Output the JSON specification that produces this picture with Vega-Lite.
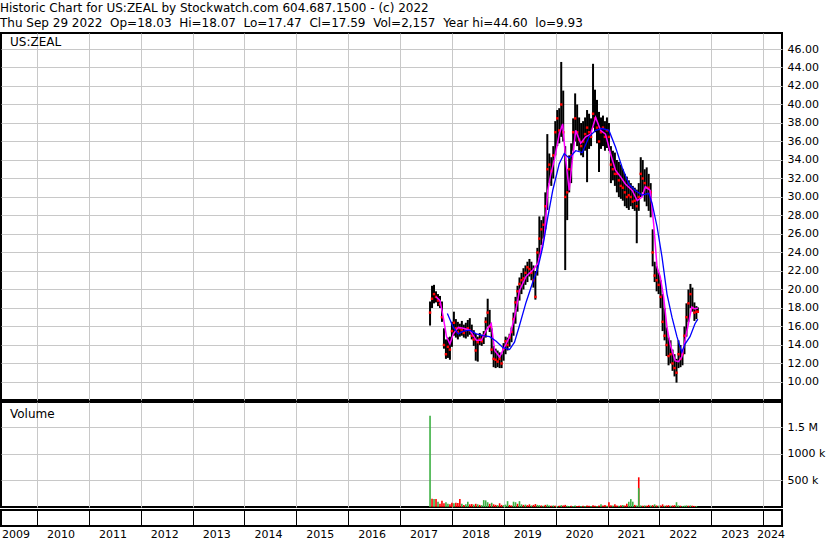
{
  "$schema": "https://vega.github.io/schema/vega-lite/v6.json",
  "padding": {"left": 0, "top": 2, "right": 0, "bottom": 0},
  "background": "white",
  "title": {
    "text": ["Historic Chart for US:ZEAL by Stockwatch.com 604.687.1500 - (c) 2022", "Thu Sep 29 2022\u00a0\u00a0Op=18.03\u00a0\u00a0Hi=18.07\u00a0\u00a0Lo=17.47\u00a0\u00a0Cl=17.59\u00a0\u00a0Vol=2,157\u00a0\u00a0Year hi=44.60\u00a0\u00a0lo=9.93"],
    "anchor": "start", "frame": "bounds", "offset": 2,
    "font": "DejaVu Sans", "fontSize": 12, "fontWeight": "normal", "color": "black", "lineHeight": 15
  },
  "spacing": 0,
  "config": {
    "view": {"stroke": "black", "strokeWidth": 2},
    "axis": {"labelFont": "DejaVu Sans", "labelFontSize": 11, "labelColor": "black", "gridColor": "#c8c8c8", "gridWidth": 1, "ticks": false, "domain": false},
    "text": {"font": "DejaVu Sans", "fontSize": 12, "color": "black"}
  },
  "datasets": {
    "price": [
      {"d":"2017-07-31","h":18.7,"l":16.1,"c":17.5},
      {"d":"2017-08-14","h":20.4,"l":18.0,"c":19.0},
      {"d":"2017-08-28","h":20.5,"l":18.5,"c":19.5},
      {"d":"2017-09-11","h":19.8,"l":18.6,"c":19.2},
      {"d":"2017-09-25","h":19.5,"l":18.2,"c":18.8},
      {"d":"2017-10-09","h":19.3,"l":18.0,"c":18.4},
      {"d":"2017-10-23","h":18.7,"l":16.5,"c":17.0},
      {"d":"2017-11-06","h":15.8,"l":13.6,"c":14.0},
      {"d":"2017-11-20","h":14.6,"l":12.5,"c":13.0},
      {"d":"2017-12-04","h":14.8,"l":12.6,"c":13.8},
      {"d":"2017-12-18","h":14.9,"l":12.4,"c":13.5},
      {"d":"2018-01-01","h":16.5,"l":13.8,"c":15.5},
      {"d":"2018-01-15","h":17.6,"l":15.0,"c":16.4},
      {"d":"2018-01-29","h":16.8,"l":14.8,"c":15.8},
      {"d":"2018-02-12","h":16.5,"l":14.6,"c":15.4},
      {"d":"2018-02-26","h":16.3,"l":14.9,"c":15.8},
      {"d":"2018-03-12","h":16.6,"l":15.0,"c":15.6},
      {"d":"2018-03-26","h":16.2,"l":14.8,"c":15.3},
      {"d":"2018-04-09","h":16.4,"l":14.7,"c":15.6},
      {"d":"2018-04-23","h":16.7,"l":14.9,"c":15.8},
      {"d":"2018-05-07","h":16.9,"l":15.1,"c":15.6},
      {"d":"2018-05-21","h":16.2,"l":14.6,"c":15.0},
      {"d":"2018-06-04","h":15.6,"l":13.9,"c":14.6},
      {"d":"2018-06-18","h":15.2,"l":12.3,"c":13.4},
      {"d":"2018-07-02","h":14.9,"l":12.2,"c":14.3},
      {"d":"2018-07-16","h":15.3,"l":14.0,"c":14.6},
      {"d":"2018-07-30","h":15.1,"l":13.9,"c":14.4},
      {"d":"2018-08-13","h":15.5,"l":14.1,"c":15.0},
      {"d":"2018-08-27","h":17.0,"l":14.8,"c":16.5},
      {"d":"2018-09-10","h":19.0,"l":16.0,"c":17.5},
      {"d":"2018-09-24","h":17.8,"l":15.4,"c":16.0},
      {"d":"2018-10-08","h":15.8,"l":13.0,"c":13.5},
      {"d":"2018-10-22","h":13.9,"l":11.6,"c":12.5},
      {"d":"2018-11-05","h":13.6,"l":11.5,"c":12.4},
      {"d":"2018-11-19","h":13.4,"l":11.6,"c":12.2},
      {"d":"2018-12-03","h":13.2,"l":11.5,"c":12.5},
      {"d":"2018-12-17","h":13.0,"l":11.5,"c":12.0},
      {"d":"2018-12-31","h":14.2,"l":12.3,"c":13.6},
      {"d":"2019-01-14","h":14.9,"l":13.0,"c":14.4},
      {"d":"2019-01-28","h":14.8,"l":13.4,"c":14.0},
      {"d":"2019-02-11","h":15.2,"l":13.8,"c":14.8},
      {"d":"2019-02-25","h":15.9,"l":14.3,"c":15.4},
      {"d":"2019-03-11","h":17.5,"l":15.0,"c":16.8},
      {"d":"2019-03-25","h":19.2,"l":16.3,"c":18.6},
      {"d":"2019-04-08","h":20.4,"l":17.6,"c":19.8},
      {"d":"2019-04-22","h":21.3,"l":18.8,"c":20.6},
      {"d":"2019-05-06","h":21.8,"l":19.5,"c":21.0},
      {"d":"2019-05-20","h":22.3,"l":20.0,"c":21.2},
      {"d":"2019-06-03","h":22.6,"l":20.5,"c":21.8},
      {"d":"2019-06-17","h":23.0,"l":20.8,"c":22.4},
      {"d":"2019-07-01","h":23.3,"l":21.4,"c":22.2},
      {"d":"2019-07-15","h":23.0,"l":21.0,"c":21.8},
      {"d":"2019-07-29","h":22.6,"l":20.2,"c":21.0},
      {"d":"2019-08-12","h":22.0,"l":18.9,"c":19.2},
      {"d":"2019-08-26","h":24.5,"l":21.5,"c":24.0},
      {"d":"2019-09-09","h":27.9,"l":23.4,"c":25.5},
      {"d":"2019-09-23","h":27.5,"l":24.8,"c":26.5},
      {"d":"2019-10-07","h":27.9,"l":25.5,"c":27.0},
      {"d":"2019-10-21","h":30.5,"l":26.5,"c":29.0},
      {"d":"2019-11-04","h":36.8,"l":28.6,"c":33.0},
      {"d":"2019-11-18","h":34.7,"l":31.5,"c":33.5},
      {"d":"2019-12-02","h":34.3,"l":31.2,"c":32.8},
      {"d":"2019-12-16","h":35.5,"l":32.0,"c":34.5},
      {"d":"2019-12-30","h":38.2,"l":34.5,"c":37.0},
      {"d":"2020-01-13","h":39.4,"l":35.5,"c":38.5},
      {"d":"2020-01-27","h":39.6,"l":35.8,"c":37.2},
      {"d":"2020-02-10","h":44.6,"l":36.5,"c":40.0},
      {"d":"2020-02-24","h":41.5,"l":36.0,"c":37.0},
      {"d":"2020-03-09","h":35.5,"l":22.1,"c":30.0},
      {"d":"2020-03-23","h":33.0,"l":27.5,"c":30.5},
      {"d":"2020-04-06","h":34.5,"l":30.5,"c":33.0},
      {"d":"2020-04-20","h":35.8,"l":31.5,"c":34.5},
      {"d":"2020-05-04","h":38.5,"l":35.0,"c":37.0},
      {"d":"2020-05-18","h":41.2,"l":36.0,"c":38.5},
      {"d":"2020-06-01","h":40.0,"l":35.5,"c":37.0},
      {"d":"2020-06-15","h":38.6,"l":35.0,"c":36.2},
      {"d":"2020-06-29","h":38.0,"l":34.5,"c":35.5},
      {"d":"2020-07-13","h":38.2,"l":34.3,"c":36.0},
      {"d":"2020-07-27","h":38.6,"l":35.0,"c":36.8},
      {"d":"2020-08-10","h":39.4,"l":31.6,"c":37.5},
      {"d":"2020-08-24","h":39.0,"l":35.2,"c":37.0},
      {"d":"2020-09-07","h":38.5,"l":35.5,"c":36.5},
      {"d":"2020-09-21","h":44.4,"l":37.5,"c":39.0},
      {"d":"2020-10-05","h":41.6,"l":37.0,"c":38.5},
      {"d":"2020-10-19","h":40.5,"l":35.8,"c":37.5},
      {"d":"2020-11-02","h":39.2,"l":32.7,"c":36.0},
      {"d":"2020-11-16","h":38.6,"l":35.2,"c":37.0},
      {"d":"2020-11-30","h":38.8,"l":35.5,"c":37.5},
      {"d":"2020-12-14","h":38.2,"l":35.0,"c":36.5},
      {"d":"2020-12-28","h":38.6,"l":35.3,"c":37.2},
      {"d":"2021-01-11","h":38.0,"l":35.0,"c":36.5},
      {"d":"2021-01-25","h":35.5,"l":31.5,"c":33.5},
      {"d":"2021-02-08","h":35.0,"l":31.8,"c":33.0},
      {"d":"2021-02-22","h":34.8,"l":31.2,"c":32.5},
      {"d":"2021-03-08","h":34.0,"l":30.5,"c":32.5},
      {"d":"2021-03-22","h":33.8,"l":30.0,"c":31.8},
      {"d":"2021-04-05","h":33.5,"l":29.8,"c":31.2},
      {"d":"2021-04-19","h":33.0,"l":29.6,"c":31.0},
      {"d":"2021-05-03","h":32.5,"l":29.0,"c":30.5},
      {"d":"2021-05-17","h":32.2,"l":28.8,"c":30.0},
      {"d":"2021-05-31","h":31.8,"l":28.6,"c":30.2},
      {"d":"2021-06-14","h":31.5,"l":29.0,"c":30.0},
      {"d":"2021-06-28","h":31.2,"l":28.7,"c":29.5},
      {"d":"2021-07-12","h":31.0,"l":28.5,"c":29.6},
      {"d":"2021-07-26","h":30.8,"l":25.0,"c":29.0},
      {"d":"2021-08-09","h":31.5,"l":28.5,"c":30.0},
      {"d":"2021-08-23","h":34.3,"l":30.0,"c":32.5},
      {"d":"2021-09-06","h":34.0,"l":30.5,"c":32.0},
      {"d":"2021-09-20","h":33.0,"l":29.5,"c":31.5},
      {"d":"2021-10-04","h":33.2,"l":29.0,"c":31.0},
      {"d":"2021-10-18","h":32.5,"l":28.5,"c":31.0},
      {"d":"2021-11-01","h":31.5,"l":27.8,"c":30.5},
      {"d":"2021-11-15","h":26.5,"l":22.5,"c":24.0},
      {"d":"2021-11-29","h":23.0,"l":20.8,"c":21.5},
      {"d":"2021-12-13","h":22.5,"l":19.8,"c":21.0},
      {"d":"2021-12-27","h":21.8,"l":19.5,"c":20.5},
      {"d":"2022-01-10","h":21.0,"l":18.0,"c":19.2},
      {"d":"2022-01-24","h":19.5,"l":15.5,"c":16.5},
      {"d":"2022-02-07","h":18.0,"l":14.5,"c":15.0},
      {"d":"2022-02-21","h":15.9,"l":12.8,"c":14.0},
      {"d":"2022-03-07","h":14.8,"l":11.8,"c":12.8},
      {"d":"2022-03-21","h":14.5,"l":12.0,"c":13.0},
      {"d":"2022-04-04","h":13.5,"l":11.2,"c":12.0},
      {"d":"2022-04-18","h":13.0,"l":10.6,"c":11.5},
      {"d":"2022-05-02","h":12.5,"l":9.93,"c":11.0},
      {"d":"2022-05-16","h":14.5,"l":11.5,"c":13.0},
      {"d":"2022-05-30","h":14.0,"l":11.6,"c":12.5},
      {"d":"2022-06-13","h":13.5,"l":11.8,"c":13.0},
      {"d":"2022-06-27","h":16.0,"l":13.0,"c":15.0},
      {"d":"2022-07-11","h":18.5,"l":14.9,"c":17.0},
      {"d":"2022-07-25","h":20.0,"l":16.5,"c":18.5},
      {"d":"2022-08-08","h":20.6,"l":18.0,"c":19.5},
      {"d":"2022-08-22","h":20.2,"l":17.6,"c":18.0},
      {"d":"2022-09-05","h":18.6,"l":16.6,"c":17.5},
      {"d":"2022-09-19","h":18.2,"l":16.8,"c":17.6},
      {"d":"2022-09-29","h":18.07,"l":17.47,"c":17.59}
    ],
    "ma1": [
      {"d":"2017-09-11","v":19.2},{"d":"2017-10-09","v":18.8},{"d":"2017-11-01","v":17.0},{"d":"2017-11-24","v":14.9},
      {"d":"2017-12-18","v":14.1},{"d":"2018-01-11","v":15.2},{"d":"2018-02-15","v":15.9},{"d":"2018-03-22","v":15.8},
      {"d":"2018-05-07","v":15.6},{"d":"2018-06-22","v":14.5},{"d":"2018-07-27","v":14.5},{"d":"2018-08-31","v":15.6},
      {"d":"2018-10-05","v":16.3},{"d":"2018-10-29","v":13.4},{"d":"2018-12-03","v":12.7},{"d":"2019-01-07","v":13.8},
      {"d":"2019-02-11","v":14.9},{"d":"2019-03-18","v":17.0},{"d":"2019-04-22","v":19.9},{"d":"2019-06-07","v":21.4},
      {"d":"2019-07-25","v":22.1},{"d":"2019-08-29","v":22.8},{"d":"2019-09-20","v":24.2},{"d":"2019-10-14","v":25.7},
      {"d":"2019-11-07","v":30.7},{"d":"2019-11-29","v":32.5},{"d":"2019-12-23","v":34.0},{"d":"2020-01-27","v":36.8},
      {"d":"2020-02-20","v":37.9},{"d":"2020-03-13","v":34.0},{"d":"2020-04-06","v":30.7},{"d":"2020-04-30","v":34.3},
      {"d":"2020-05-22","v":37.2},{"d":"2020-06-26","v":35.8},{"d":"2020-07-31","v":36.5},{"d":"2020-09-04","v":36.8},
      {"d":"2020-10-09","v":38.6},{"d":"2020-11-13","v":37.2},{"d":"2020-12-18","v":36.8},{"d":"2021-01-22","v":34.7},
      {"d":"2021-02-26","v":32.9},{"d":"2021-04-02","v":32.2},{"d":"2021-05-07","v":31.4},{"d":"2021-06-24","v":30.7},
      {"d":"2021-07-29","v":29.6},{"d":"2021-09-01","v":30.0},{"d":"2021-09-24","v":31.1},{"d":"2021-10-29","v":30.7},
      {"d":"2021-11-22","v":27.1},{"d":"2021-12-16","v":22.4},{"d":"2022-01-07","v":21.4},{"d":"2022-01-31","v":19.2},
      {"d":"2022-02-24","v":15.9},{"d":"2022-03-18","v":14.1},{"d":"2022-04-22","v":12.3},{"d":"2022-05-16","v":12.2},
      {"d":"2022-06-08","v":12.7},{"d":"2022-07-01","v":14.5},{"d":"2022-07-25","v":16.3},{"d":"2022-08-17","v":18.1},
      {"d":"2022-09-09","v":17.9},{"d":"2022-09-29","v":18.0}
    ],
    "ma2": [
      {"d":"2017-11-30","v":17.4},{"d":"2018-01-11","v":15.9},{"d":"2018-02-15","v":15.2},{"d":"2018-03-22","v":15.5},
      {"d":"2018-05-07","v":15.6},{"d":"2018-06-22","v":15.2},{"d":"2018-08-09","v":15.0},{"d":"2018-09-24","v":14.9},
      {"d":"2018-11-09","v":14.4},{"d":"2018-12-27","v":13.7},{"d":"2019-02-11","v":13.5},{"d":"2019-03-18","v":14.3},
      {"d":"2019-04-22","v":16.1},{"d":"2019-06-07","v":18.6},{"d":"2019-07-25","v":20.8},{"d":"2019-08-29","v":22.3},
      {"d":"2019-10-03","v":24.6},{"d":"2019-11-07","v":27.8},{"d":"2019-12-12","v":30.7},{"d":"2020-01-27","v":33.6},
      {"d":"2020-03-02","v":34.7},{"d":"2020-04-06","v":34.2},{"d":"2020-05-22","v":35.0},{"d":"2020-07-08","v":34.8},
      {"d":"2020-08-24","v":36.5},{"d":"2020-10-09","v":37.2},{"d":"2020-11-25","v":37.4},{"d":"2021-01-11","v":37.2},
      {"d":"2021-02-26","v":35.4},{"d":"2021-04-14","v":33.2},{"d":"2021-05-31","v":31.4},{"d":"2021-07-16","v":30.7},
      {"d":"2021-09-01","v":30.2},{"d":"2021-10-18","v":30.4},{"d":"2021-11-11","v":29.3},{"d":"2021-12-16","v":26.8},
      {"d":"2022-01-20","v":23.5},{"d":"2022-02-24","v":19.5},{"d":"2022-03-31","v":17.0},{"d":"2022-05-05","v":14.9},
      {"d":"2022-06-08","v":13.2},{"d":"2022-07-01","v":14.1},{"d":"2022-08-05","v":14.9},{"d":"2022-09-09","v":16.3},
      {"d":"2022-09-29","v":16.8}
    ],
    "vol": [
      {"d":"2017-07-31","v":1720000,"u":"up"},{"d":"2017-08-14","v":155000,"u":"dn"},{"d":"2017-08-28","v":150000,"u":"up"},
      {"d":"2017-09-11","v":150000,"u":"dn"},{"d":"2017-09-25","v":100000,"u":"up"},{"d":"2017-10-09","v":60000,"u":"dn"},
      {"d":"2017-10-23","v":120000,"u":"dn"},{"d":"2017-11-06","v":70000,"u":"dn"},{"d":"2017-11-20","v":90000,"u":"up"},
      {"d":"2017-12-04","v":60000,"u":"up"},{"d":"2017-12-18","v":50000,"u":"dn"},{"d":"2018-01-01","v":80000,"u":"dn"},
      {"d":"2018-01-15","v":70000,"u":"up"},{"d":"2018-01-29","v":80000,"u":"dn"},{"d":"2018-02-12","v":75000,"u":"dn"},
      {"d":"2018-02-26","v":150000,"u":"dn"},{"d":"2018-03-12","v":60000,"u":"up"},{"d":"2018-03-26","v":40000,"u":"dn"},
      {"d":"2018-04-09","v":50000,"u":"up"},{"d":"2018-04-23","v":100000,"u":"up"},{"d":"2018-05-07","v":50000,"u":"dn"},
      {"d":"2018-05-21","v":55000,"u":"dn"},{"d":"2018-06-04","v":45000,"u":"up"},{"d":"2018-06-18","v":60000,"u":"dn"},
      {"d":"2018-07-02","v":50000,"u":"up"},{"d":"2018-07-16","v":40000,"u":"dn"},{"d":"2018-07-30","v":35000,"u":"up"},
      {"d":"2018-08-13","v":130000,"u":"up"},{"d":"2018-08-27","v":125000,"u":"up"},{"d":"2018-09-10","v":90000,"u":"up"},
      {"d":"2018-09-24","v":60000,"u":"dn"},{"d":"2018-10-08","v":80000,"u":"up"},{"d":"2018-10-22","v":50000,"u":"dn"},
      {"d":"2018-11-05","v":40000,"u":"dn"},{"d":"2018-11-19","v":35000,"u":"up"},{"d":"2018-12-03","v":70000,"u":"dn"},
      {"d":"2018-12-17","v":40000,"u":"dn"},{"d":"2018-12-31","v":35000,"u":"up"},{"d":"2019-01-14","v":45000,"u":"up"},
      {"d":"2019-01-28","v":110000,"u":"up"},{"d":"2019-02-11","v":40000,"u":"dn"},{"d":"2019-02-25","v":30000,"u":"dn"},
      {"d":"2019-03-11","v":100000,"u":"up"},{"d":"2019-03-25","v":90000,"u":"up"},{"d":"2019-04-08","v":60000,"u":"dn"},
      {"d":"2019-04-22","v":110000,"u":"up"},{"d":"2019-05-06","v":50000,"u":"up"},{"d":"2019-05-20","v":40000,"u":"dn"},
      {"d":"2019-06-03","v":45000,"u":"up"},{"d":"2019-06-17","v":35000,"u":"dn"},{"d":"2019-07-01","v":50000,"u":"dn"},
      {"d":"2019-07-15","v":30000,"u":"up"},{"d":"2019-07-29","v":40000,"u":"dn"},{"d":"2019-08-12","v":55000,"u":"dn"},
      {"d":"2019-08-26","v":40000,"u":"up"},{"d":"2019-09-09","v":35000,"u":"up"},{"d":"2019-09-23","v":30000,"u":"dn"},
      {"d":"2019-10-07","v":25000,"u":"up"},{"d":"2019-10-21","v":40000,"u":"dn"},{"d":"2019-11-04","v":45000,"u":"up"},
      {"d":"2019-11-18","v":30000,"u":"up"},{"d":"2019-12-02","v":25000,"u":"dn"},{"d":"2019-12-16","v":30000,"u":"up"},
      {"d":"2019-12-30","v":25000,"u":"dn"},{"d":"2020-01-13","v":20000,"u":"up"},{"d":"2020-01-27","v":25000,"u":"dn"},
      {"d":"2020-02-10","v":35000,"u":"up"},{"d":"2020-02-24","v":30000,"u":"dn"},{"d":"2020-03-09","v":40000,"u":"dn"},
      {"d":"2020-03-23","v":25000,"u":"up"},{"d":"2020-04-06","v":20000,"u":"up"},{"d":"2020-04-20","v":25000,"u":"dn"},
      {"d":"2020-05-04","v":20000,"u":"up"},{"d":"2020-05-18","v":30000,"u":"up"},{"d":"2020-06-01","v":20000,"u":"dn"},
      {"d":"2020-06-15","v":25000,"u":"dn"},{"d":"2020-06-29","v":20000,"u":"up"},{"d":"2020-07-13","v":25000,"u":"dn"},
      {"d":"2020-07-27","v":20000,"u":"up"},{"d":"2020-08-10","v":30000,"u":"dn"},{"d":"2020-08-24","v":25000,"u":"dn"},
      {"d":"2020-09-07","v":20000,"u":"up"},{"d":"2020-09-21","v":35000,"u":"dn"},{"d":"2020-10-05","v":25000,"u":"dn"},
      {"d":"2020-10-19","v":20000,"u":"up"},{"d":"2020-11-02","v":30000,"u":"dn"},{"d":"2020-11-16","v":50000,"u":"up"},
      {"d":"2020-11-30","v":30000,"u":"dn"},{"d":"2020-12-14","v":40000,"u":"dn"},{"d":"2020-12-28","v":25000,"u":"up"},
      {"d":"2021-01-11","v":90000,"u":"dn"},{"d":"2021-01-25","v":35000,"u":"dn"},{"d":"2021-02-08","v":30000,"u":"up"},
      {"d":"2021-02-22","v":50000,"u":"dn"},{"d":"2021-03-08","v":30000,"u":"dn"},{"d":"2021-03-22","v":25000,"u":"up"},
      {"d":"2021-04-05","v":35000,"u":"dn"},{"d":"2021-04-19","v":40000,"u":"up"},{"d":"2021-05-03","v":30000,"u":"dn"},
      {"d":"2021-05-17","v":60000,"u":"dn"},{"d":"2021-05-31","v":100000,"u":"up"},{"d":"2021-06-14","v":150000,"u":"up"},
      {"d":"2021-06-28","v":100000,"u":"up"},{"d":"2021-07-12","v":40000,"u":"dn"},{"d":"2021-07-26","v":30000,"u":"up"},
      {"d":"2021-08-09","v":560000,"u":"dn"},{"d":"2021-08-09","v":355000,"u":"up"},
      {"d":"2021-08-23","v":30000,"u":"up"},{"d":"2021-09-06","v":25000,"u":"dn"},{"d":"2021-09-20","v":30000,"u":"up"},
      {"d":"2021-10-04","v":25000,"u":"dn"},{"d":"2021-10-18","v":40000,"u":"dn"},{"d":"2021-11-01","v":30000,"u":"up"},
      {"d":"2021-11-15","v":35000,"u":"dn"},{"d":"2021-11-29","v":50000,"u":"up"},{"d":"2021-12-13","v":30000,"u":"dn"},
      {"d":"2021-12-27","v":25000,"u":"up"},{"d":"2022-01-10","v":30000,"u":"dn"},{"d":"2022-01-24","v":50000,"u":"dn"},
      {"d":"2022-02-07","v":25000,"u":"up"},{"d":"2022-02-21","v":30000,"u":"dn"},{"d":"2022-03-07","v":35000,"u":"dn"},
      {"d":"2022-03-21","v":25000,"u":"up"},{"d":"2022-04-04","v":30000,"u":"dn"},{"d":"2022-04-18","v":35000,"u":"dn"},
      {"d":"2022-05-02","v":90000,"u":"up"},{"d":"2022-05-16","v":30000,"u":"up"},{"d":"2022-05-30","v":25000,"u":"dn"},
      {"d":"2022-06-13","v":20000,"u":"up"},{"d":"2022-06-27","v":25000,"u":"up"},{"d":"2022-07-11","v":30000,"u":"up"},
      {"d":"2022-07-25","v":25000,"u":"dn"},{"d":"2022-08-08","v":30000,"u":"up"},{"d":"2022-08-22","v":25000,"u":"dn"},
      {"d":"2022-09-05","v":20000,"u":"dn"},{"d":"2022-09-19","v":20000,"u":"up"},{"d":"2022-09-29","v":2157,"u":"dn"}
    ],
    "years": [
      {"yr":"2010","d":"2010-01-01"},{"yr":"2011","d":"2011-01-01"},{"yr":"2012","d":"2012-01-01"},{"yr":"2013","d":"2013-01-01"},
      {"yr":"2014","d":"2014-01-01"},{"yr":"2015","d":"2015-01-01"},{"yr":"2016","d":"2016-01-01"},{"yr":"2017","d":"2017-01-01"},
      {"yr":"2018","d":"2018-01-01"},{"yr":"2019","d":"2019-01-01"},{"yr":"2020","d":"2020-01-01"},{"yr":"2021","d":"2021-01-01"},
      {"yr":"2022","d":"2022-01-01"},{"yr":"2023","d":"2023-01-01"}
    ]
  },
  "vconcat": [
    {
      "width": 781,
      "height": 367,
      "encoding": {
        "x": {"field": "d", "type": "temporal",
          "scale": {"type": "utc", "domain": [{"year": 2009, "month": 4, "date": 22, "utc": true}, {"year": 2024, "month": 5, "date": 14, "utc": true}]},
          "axis": {"labels": false, "grid": true, "tickCount": {"interval": "year", "step": 1}, "title": null}}
      },
      "layer": [
        {
          "data": {"name": "price"},
          "mark": {"type": "rule", "color": "black", "strokeWidth": 2},
          "encoding": {
            "y": {"field": "l", "type": "quantitative", "scale": {"domain": [8.05, 47.73], "nice": false, "zero": false},
              "axis": {"orient": "right", "values": [10,12,14,16,18,20,22,24,26,28,30,32,34,36,38,40,42,44,46], "format": ".2f", "grid": true, "labelPadding": 5, "title": null}},
            "y2": {"field": "h"}
          }
        },
        {
          "data": {"name": "price"},
          "mark": {"type": "point", "shape": "square", "size": 6, "filled": true, "color": "red", "opacity": 1},
          "encoding": {"y": {"field": "c", "type": "quantitative", "scale": {"domain": [8.05, 47.73], "nice": false, "zero": false},
              "axis": {"orient": "right", "values": [10,12,14,16,18,20,22,24,26,28,30,32,34,36,38,40,42,44,46], "format": ".2f", "grid": true, "labelPadding": 5, "title": null}}}
        },
        {
          "data": {"name": "ma1"},
          "mark": {"type": "line", "color": "#ff00ff", "strokeWidth": 1.5},
          "encoding": {"y": {"field": "v", "type": "quantitative", "scale": {"domain": [8.05, 47.73], "nice": false, "zero": false},
              "axis": {"orient": "right", "values": [10,12,14,16,18,20,22,24,26,28,30,32,34,36,38,40,42,44,46], "format": ".2f", "grid": true, "labelPadding": 5, "title": null}}}
        },
        {
          "data": {"name": "ma2"},
          "mark": {"type": "line", "color": "#0000ff", "strokeWidth": 1.3},
          "encoding": {"y": {"field": "v", "type": "quantitative", "scale": {"domain": [8.05, 47.73], "nice": false, "zero": false},
              "axis": {"orient": "right", "values": [10,12,14,16,18,20,22,24,26,28,30,32,34,36,38,40,42,44,46], "format": ".2f", "grid": true, "labelPadding": 5, "title": null}}}
        },
        {
          "data": {"values": [{"t": "US:ZEAL", "d": "2009-04-22", "p": 46.76}]},
          "mark": {"type": "text", "align": "left", "baseline": "middle", "dx": 9},
          "encoding": {
            "y": {"field": "p", "type": "quantitative", "scale": {"domain": [8.05, 47.73], "nice": false, "zero": false},
              "axis": {"orient": "right", "values": [10,12,14,16,18,20,22,24,26,28,30,32,34,36,38,40,42,44,46], "format": ".2f", "grid": true, "labelPadding": 5, "title": null}},
            "text": {"field": "t"}
          }
        }
      ]
    },
    {
      "width": 781,
      "height": 105,
      "encoding": {
        "x": {"field": "d", "type": "temporal",
          "scale": {"type": "utc", "domain": [{"year": 2009, "month": 4, "date": 22, "utc": true}, {"year": 2024, "month": 5, "date": 14, "utc": true}]},
          "axis": {"labels": false, "grid": true, "tickCount": {"interval": "year", "step": 1}, "title": null}}
      },
      "layer": [
        {
          "data": {"name": "vol"},
          "mark": {"type": "rule", "strokeWidth": 1.6},
          "encoding": {
            "y": {"field": "v", "type": "quantitative", "scale": {"domain": [0, 1980000], "nice": false},
              "axis": {"orient": "right", "values": [500000, 1000000, 1500000], "grid": true, "labelPadding": 5, "title": null,
                "labelExpr": "datum.value == 1500000 ? '1.5 M' : datum.value == 1000000 ? '1000 k' : '500 k'"}},
            "y2": {"datum": 0},
            "color": {"field": "u", "type": "nominal", "scale": {"domain": ["up", "dn"], "range": ["#3cb043", "#ff0000"]}, "legend": null}
          }
        },
        {
          "data": {"values": [{"t": "Volume", "d": "2009-04-22", "v": 1760000}]},
          "mark": {"type": "text", "align": "left", "baseline": "middle", "dx": 9},
          "encoding": {
            "y": {"field": "v", "type": "quantitative", "scale": {"domain": [0, 1980000], "nice": false},
              "axis": {"orient": "right", "values": [500000, 1000000, 1500000], "grid": true, "labelPadding": 5, "title": null,
                "labelExpr": "datum.value == 1500000 ? '1.5 M' : datum.value == 1000000 ? '1000 k' : '500 k'"}},
            "text": {"field": "t"}
          }
        }
      ]
    },
    {
      "width": 781,
      "height": 16,
      "encoding": {
        "x": {"field": "d", "type": "temporal",
          "scale": {"type": "utc", "domain": [{"year": 2009, "month": 4, "date": 22, "utc": true}, {"year": 2024, "month": 5, "date": 14, "utc": true}]},
          "axis": {"labels": false, "grid": true, "gridColor": "black", "tickCount": {"interval": "year", "step": 1}, "title": null}}
      },
      "layer": [
        {
          "data": {"name": "years"},
          "mark": {"type": "text", "align": "left", "baseline": "top", "dx": 10, "dy": 11, "fontSize": 11},
          "encoding": {"text": {"field": "yr"}}
        },
        {
          "data": {"values": [{"yr": "2009", "d": "2009-04-22"}]},
          "mark": {"type": "text", "align": "left", "baseline": "top", "dx": 1, "dy": 11, "fontSize": 11},
          "encoding": {"text": {"field": "yr"}}
        },
        {
          "data": {"values": [{"yr": "2024", "d": "2024-01-01"}]},
          "mark": {"type": "text", "align": "left", "baseline": "top", "dx": -6, "dy": 11, "fontSize": 11},
          "encoding": {"text": {"field": "yr"}}
        }
      ]
    }
  ]
}
